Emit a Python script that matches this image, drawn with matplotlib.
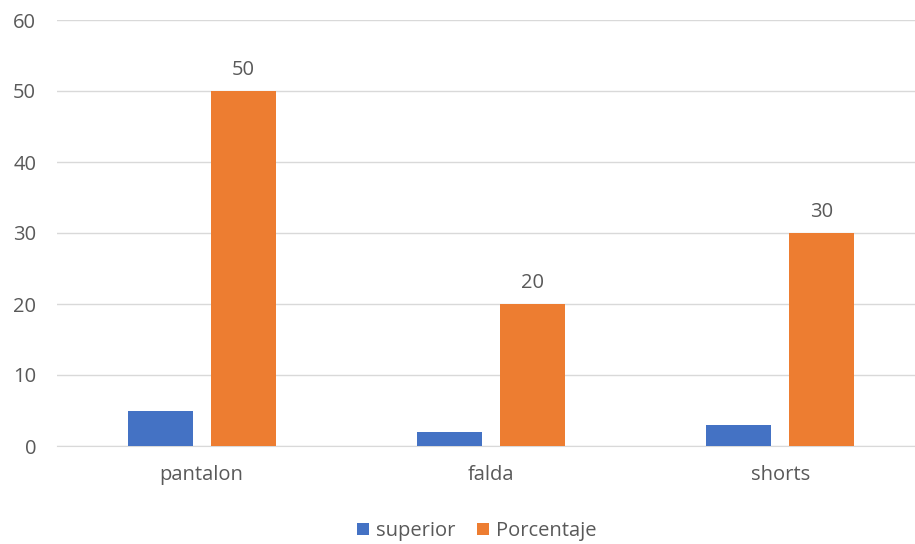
import numpy as np
import matplotlib.pyplot as plt

categories = ['pantalon', 'falda', 'shorts']
superior = [5, 2, 3]
porcentaje = [50, 20, 30]

plt.rcParams['font.family'] = ['Open Sans', 'DejaVu Sans']
text_color = '#595959'
fs = 14.5

fig = plt.figure(figsize=(9.15, 5.44), dpi=100)
ax = fig.add_axes([57/915, 98/544, 868/915, 426/544])

x = np.arange(len(categories))
w = 0.2245
ax.bar(x - 0.143, superior, w, color='#4472C4', label='superior', zorder=3)
bars = ax.bar(x + 0.143, porcentaje, w, color='#ED7D31', label='Porcentaje', zorder=3)
ax.bar_label(bars, padding=8, fontsize=fs, color=text_color)

ax.set_xlim(-0.5, 2.5)
ax.set_ylim(0, 60)
ax.set_yticks(range(0, 61, 10))
ax.set_xticks(x)
ax.set_xticklabels(categories)
ax.yaxis.grid(True, color='#D9D9D9', linewidth=1, zorder=0)
for s in ['top', 'right', 'left']:
    ax.spines[s].set_visible(False)
ax.spines['bottom'].set_color('#D9D9D9')
ax.tick_params(axis='both', length=0, labelsize=fs, colors=text_color)
ax.tick_params(axis='y', pad=15)
ax.tick_params(axis='x', pad=14)

leg = fig.legend(loc='lower center', bbox_to_anchor=(0.521, -0.028), ncol=2, frameon=False,
                 fontsize=fs, handlelength=0.6, handleheight=0.6, handletextpad=0.35,
                 columnspacing=1.1)
for t in leg.get_texts():
    t.set_color(text_color)

fig.savefig('out.png', dpi=100)
